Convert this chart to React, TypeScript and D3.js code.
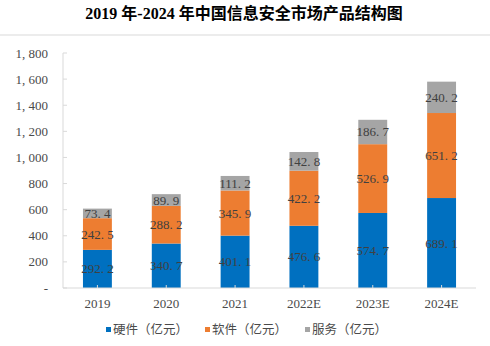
import React from "react";
import * as d3 from "d3";

const years = ["2019", "2020", "2021", "2022E", "2023E", "2024E"];
const hardware = [292.2, 340.7, 401.1, 476.6, 574.7, 689.1];
const software = [242.5, 288.2, 345.9, 422.2, 526.9, 651.2];
const service = [73.4, 89.9, 111.2, 142.8, 186.7, 240.2];
const seriesNames = ["硬件（亿元）", "软件（亿元）", "服务（亿元）"];
const colors = ["#0070C0", "#ED7D31", "#A5A5A5"];
const yTicks = [0, 200, 400, 600, 800, 1000, 1200, 1400, 1600, 1800];
const title = "2019 年-2024 年中国信息安全市场产品结构图";

const W = 490, H = 346;
const x0 = 63, x1 = 476, yTop = 53, yBot = 288;

export default function App() {
  const x = d3.scaleBand<string>().domain(years).range([x0, x1]).paddingInner(0.58).paddingOuter(0.29);
  const y = d3.scaleLinear().domain([0, 1800]).range([yBot, yTop]);
  const table = years.map((yr, i) => ({ year: yr, h: hardware[i], s: software[i], v: service[i] }));
  const stack = d3.stack<any>().keys(["h", "s", "v"])(table);
  const fmtTick = (v: number) => (v === 0 ? "-" : d3.format(",")(v).replace(",", ", "));
  const fmtLabel = (v: number) => v.toFixed(1).replace(".", ". ");
  const serif = "'Liberation Serif', 'DejaVu Serif', serif";
  const legendX = [106, 205, 305];

  return (
    <svg width={W} height={H} style={{ position: "absolute", left: 0, top: 0, background: "#fff" }}>
      <text x={244} y={19} textAnchor="middle" fontFamily={`'Liberation Serif', 'Noto Sans CJK SC', serif`} fontWeight="bold" fontSize={16} fill="#000">
        {title}
      </text>
      <line x1={0} x2={W} y1={35} y2={35} stroke="#d9d9d9" strokeWidth={1} />
      {/* y axis */}
      <line x1={x0} x2={x0} y1={yTop} y2={yBot} stroke="#d9d9d9" strokeWidth={1} />
      {yTicks.map((t) => (
        <g key={t}>
          <line x1={x0} x2={x0 + 4} y1={y(t)} y2={y(t)} stroke="#d9d9d9" />
          <text x={48} y={y(t) + 4.5} textAnchor="end" fontFamily={serif} fontSize={13} fill="#4a4a4a">
            {fmtTick(t)}
          </text>
        </g>
      ))}
      {/* bars */}
      {stack.map((layer, si) => (
        <g key={si}>
          {layer.map((d, i) => (
            <g key={i}>
              <rect x={x(years[i])!} width={x.bandwidth()} y={y(d[1])} height={y(d[0]) - y(d[1])} fill={colors[si]} />
              <text
                x={x(years[i])! + x.bandwidth() / 2}
                y={(y(d[0]) + y(d[1])) / 2 + 4.5}
                textAnchor="middle"
                fontFamily={serif}
                fontSize={13}
                fill="#404040"
              >
                {fmtLabel(d[1] - d[0])}
              </text>
            </g>
          ))}
        </g>
      ))}
      {/* x axis */}
      <line x1={x0} x2={x1} y1={yBot} y2={yBot} stroke="#d9d9d9" strokeWidth={1} />
      {years.map((yr) => (
        <g key={yr}>
          <line x1={x(yr)! + x.bandwidth() / 2} x2={x(yr)! + x.bandwidth() / 2} y1={yBot} y2={yBot - 3} stroke="#d9d9d9" />
          <text x={x(yr)! + x.bandwidth() / 2} y={308} textAnchor="middle" fontFamily={serif} fontSize={13} fill="#4a4a4a">
            {yr}
          </text>
        </g>
      ))}
      {/* legend */}
      {seriesNames.map((n, i) => (
        <g key={n}>
          <rect x={legendX[i]} y={327} width={5} height={5} fill={colors[i]} />
          <text x={legendX[i] + 7} y={334} fontFamily={`'Noto Sans CJK SC', serif`} fontSize={12.5} fill="#4a4a4a">
            {n}
          </text>
        </g>
      ))}
    </svg>
  );
}
